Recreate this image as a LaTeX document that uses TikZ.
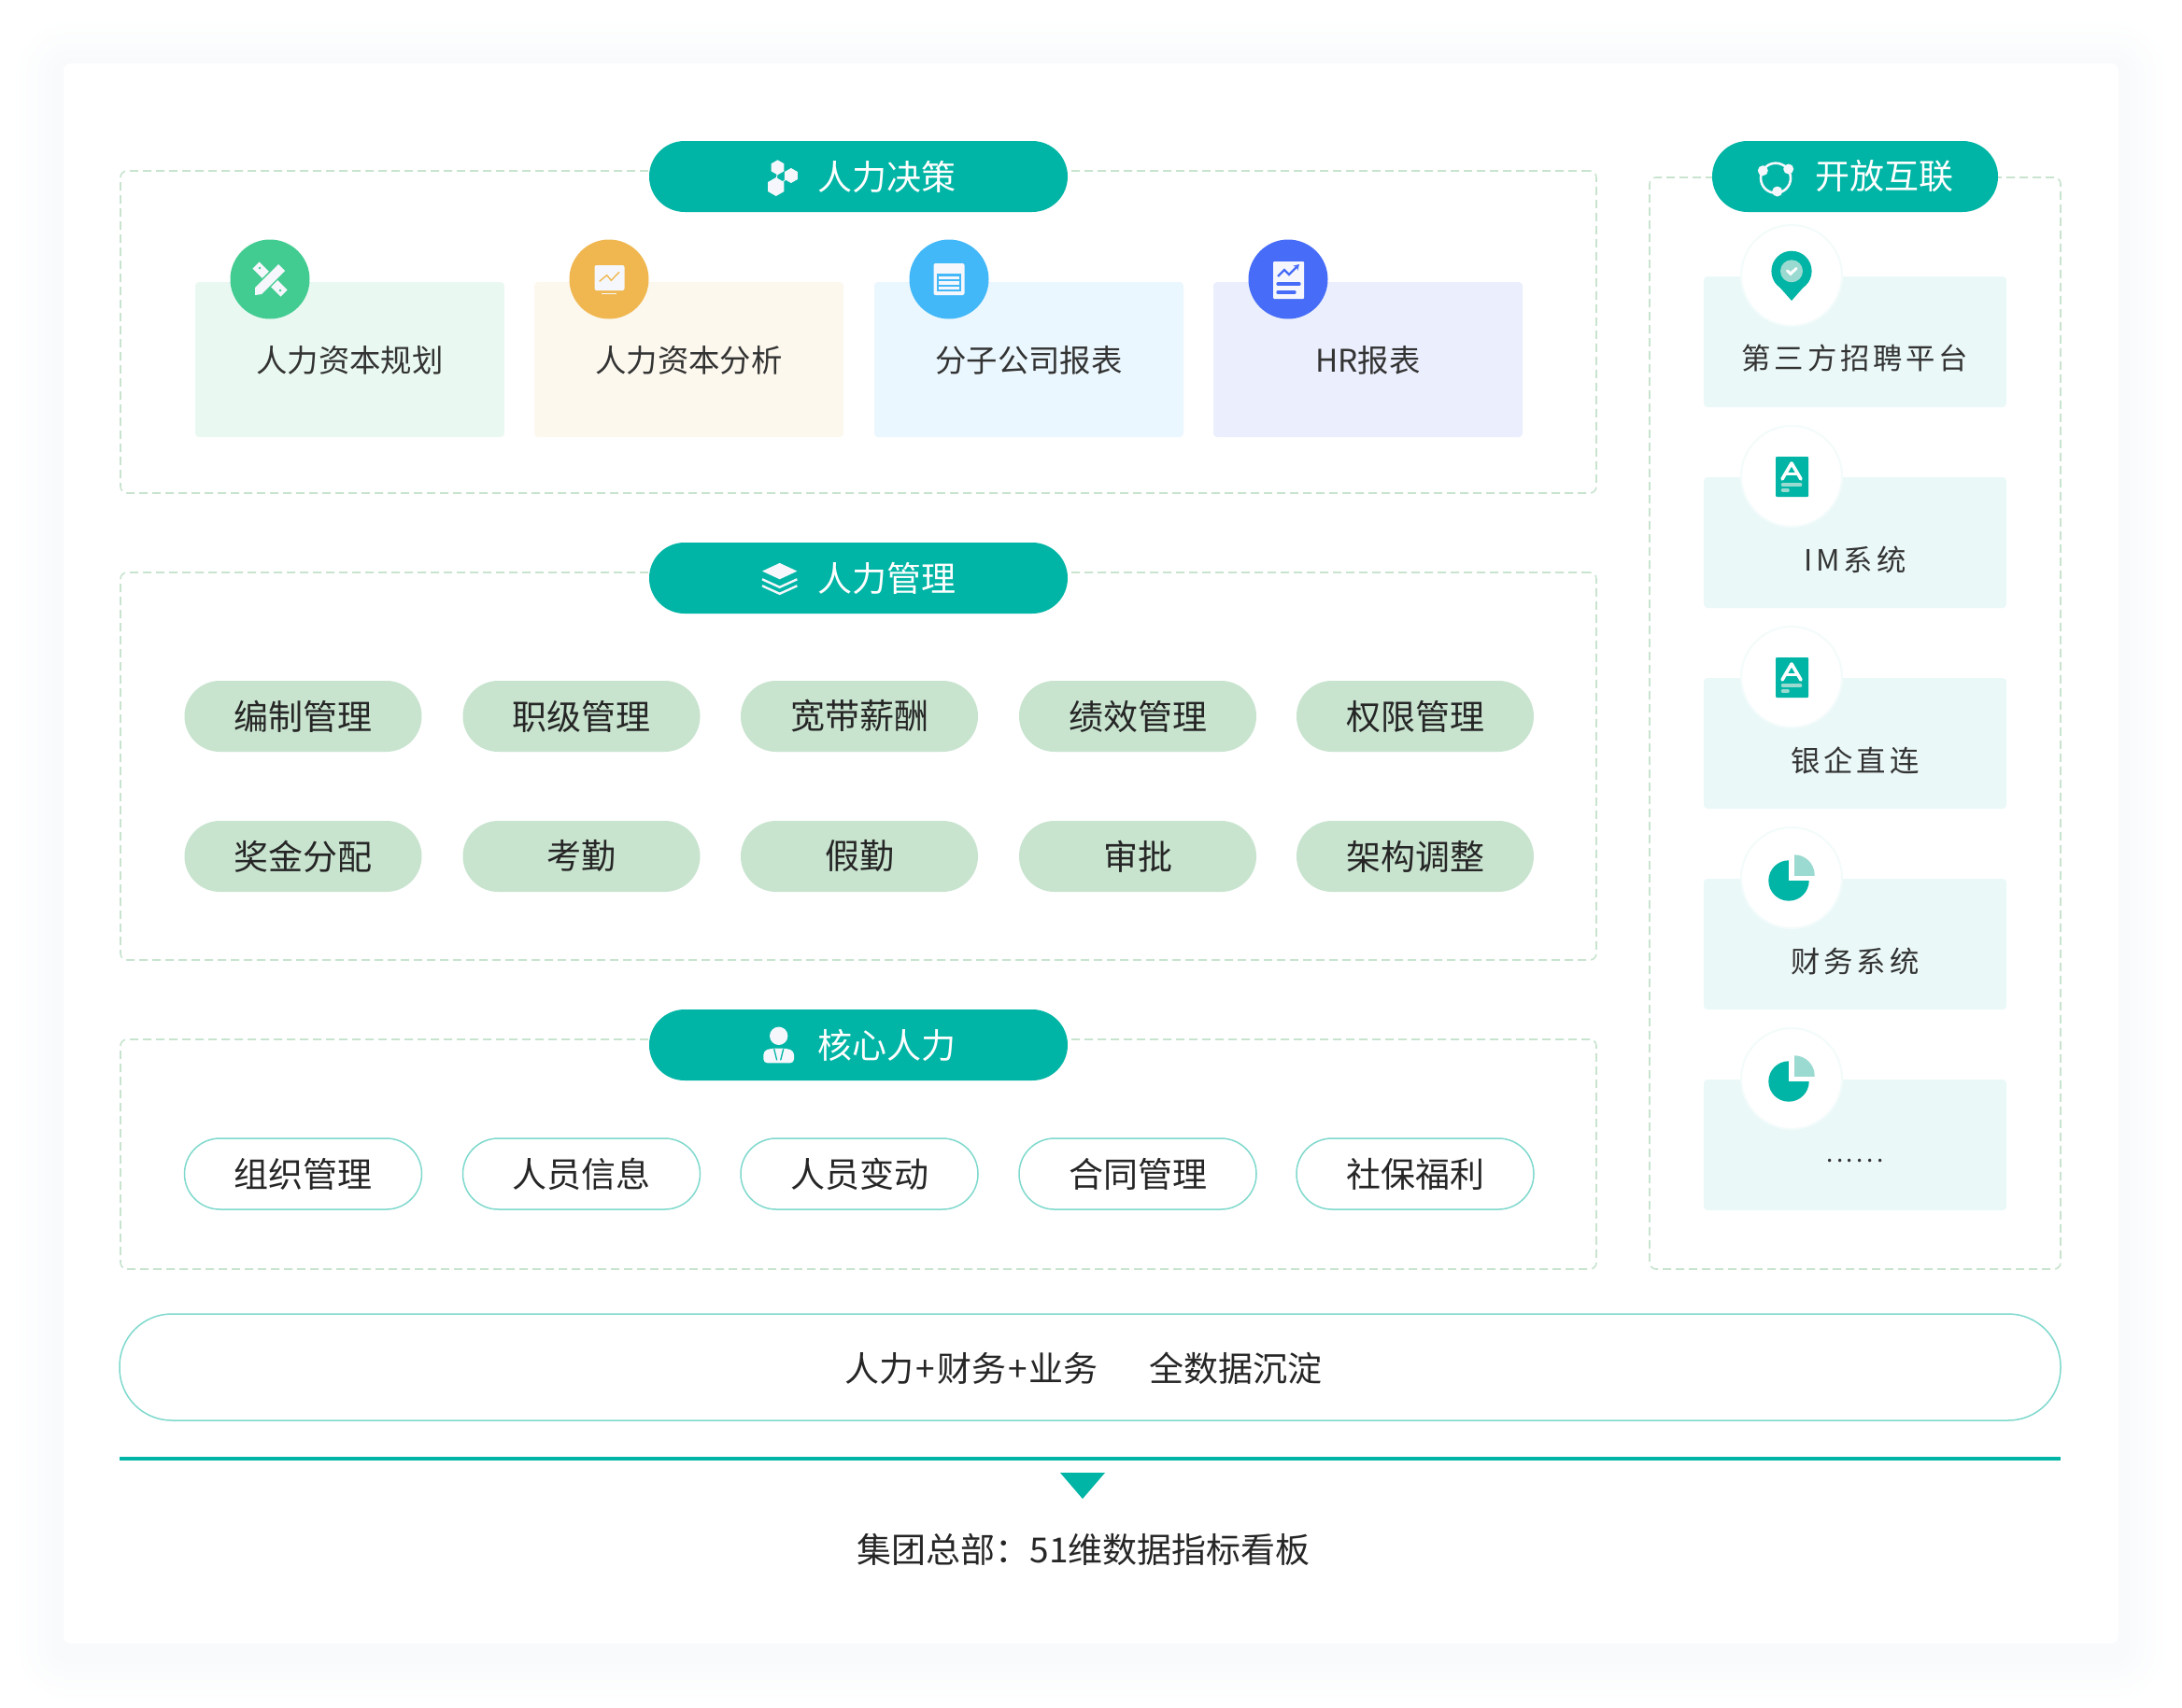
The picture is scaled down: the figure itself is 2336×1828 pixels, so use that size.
\documentclass[tikz,border=0pt]{standalone}
\usepackage{fontspec}
\setmainfont{Noto Sans CJK SC}
\newfontfamily\spreadfont[LetterSpace=12]{Noto Sans CJK SC}
\newfontfamily\dotsfont[LetterSpace=14]{Noto Sans CJK SC}
\definecolor{mainteal}{RGB}{0,181,165}
\definecolor{softteal}{RGB}{155,218,209}
\definecolor{barteal}{RGB}{127,217,205}
\definecolor{palegreen}{RGB}{200,228,207}
\definecolor{paleteal}{RGB}{235,248,248}
\definecolor{shadowblue}{RGB}{120,150,190}
\definecolor{inkgrey}{RGB}{51,51,51}
\definecolor{iconwhite}{RGB}{245,247,252}
\definecolor{toolgreen}{RGB}{67,204,145}
\definecolor{toolbg}{RGB}{233,249,242}
\definecolor{chartorange}{RGB}{240,183,80}
\definecolor{chartbg}{RGB}{252,248,238}
\definecolor{tableblue}{RGB}{66,184,248}
\definecolor{tablebg}{RGB}{235,247,254}
\definecolor{reportblue}{RGB}{70,108,248}
\definecolor{reportbg}{RGB}{235,239,253}
\usetikzlibrary{arrows.meta,positioning,fit,calc}
\tikzset{
  dashbox/.style={draw=palegreen, line width=1.6pt, dash pattern=on 9pt off 5pt, rounded corners=7pt},
  headpill/.style={fill=mainteal, rounded corners=37.9pt, minimum height=76pt, inner sep=0pt},
  headtext/.style={text=white, font=\fontsize{37}{44}\selectfont, inner sep=0pt},
  plaincard/.style={rounded corners=4pt, minimum width=331pt, minimum height=166pt, inner sep=0pt},
  cardtext/.style={text=inkgrey, font=\fontsize{33.4}{40}\selectfont, inner sep=0pt},
  iconround/.style={circle, minimum size=85pt, inner sep=0pt},
  sidecard/.style={fill=paleteal, rounded corners=4pt, minimum width=324pt, minimum height=140pt, inner sep=0pt},
  sidetext/.style={text=inkgrey, font=\fontsize{31.4}{38}\spreadfont, inner sep=0pt},
  sideround/.style={circle, fill=white, minimum size=108pt, inner sep=0pt},
  chipbase/.style={rounded corners=37.9pt, minimum width=254pt, minimum height=76pt, inner sep=0pt,
    text=black!85, font=\fontsize{37}{44}\selectfont},
  chipfill/.style={chipbase, fill=palegreen},
  chipline/.style={chipbase, draw=barteal, fill=white, line width=1.5pt},
  hexicon/.pic={
    \foreach \hx/\hy/\hr in {-3.5/-9.7/8, 10.9/-1/8, -5.2/11/10}
      \fill[iconwhite, shift={(\hx,\hy)}] (30:\hr) -- (90:\hr) -- (150:\hr) -- (210:\hr) -- (270:\hr) -- (330:\hr) -- cycle;
    \draw[iconwhite, line width=1pt] (-3.5,-9.7) -- (-5.2,11) -- (10.9,-1);
  },
  layericon/.pic={
    \fill[iconwhite] (-18.7,-7.7) -- (0,-16.4) -- (18.7,-7.7) -- (0,1) -- cycle;
    \draw[iconwhite, line width=2.4pt] (-18.7,1) -- (0,9.5) -- (18.7,1);
    \draw[iconwhite, line width=2.4pt] (-18.7,8) -- (0,16.5) -- (18.7,8);
  },
  personicon/.pic={
    \fill[iconwhite] (0,-10) circle (9.7);
    \fill[iconwhite, rounded corners=4pt] (-16.3,19) -- (-16.3,6) -- (-8,3.3) -- (8,3.3) -- (16.3,6) -- (16.3,19) -- cycle;
    \draw[mainteal, line width=1.3pt] (-5,4) -- (-2,16) (5,4) -- (2,16);
  },
  ringicon/.pic={
    \draw[iconwhite, line width=2.6pt] (0,-1) circle (16);
    \fill[iconwhite] (-13.7,-9) circle (5.5) (13.7,-10.7) circle (5.5) (1.7,13.3) circle (5.5);
  },
  toolicon/.pic={
    \draw[iconwhite, line width=10pt] (-15,-15) -- (15,15);
    \fill[toolgreen] (-11,-12) circle (1.4) (11,12) circle (1.4);
    \draw[toolgreen, line width=13pt] (-13,13) -- (13,-13);
    \fill[iconwhite] (-16,17) -- (-16,9) -- (9,-16) -- (16,-9) -- (-9,16) -- cycle;
  },
  screenicon/.pic={
    \fill[iconwhite, rounded corners=2pt] (-15.5,-15) rectangle (16.5,12);
    \draw[iconwhite, line width=1.5pt] (-8,15.5) -- (8,15.5);
    \draw[chartorange, line width=1.4pt] (-10.3,2.3) -- (-2.3,-4.3) -- (2.3,1.3) -- (11,-7.7);
  },
  tableicon/.pic={
    \fill[iconwhite, rounded corners=2pt] (-16.5,-17) rectangle (16.5,17);
    \fill[tableblue] (-13,-6) rectangle (12.5,13);
    \foreach \sy in {-3.5,2,7.5}
      \fill[iconwhite] (-11.5,\sy) rectangle (11,\sy+3.5);
  },
  reporticon/.pic={
    \fill[iconwhite, rounded corners=1pt] (-16,-19) rectangle (17,21);
    \draw[reportblue, line width=2.2pt, -{Stealth[length=6pt,width=7pt]}] (-11,-3) -- (-4,-10) -- (1,-5) -- (12,-16);
    \draw[reportblue, line width=3.4pt, line cap=round] (-11,5) -- (12,5) (-11,14) -- (7,14);
  },
  pinicon/.pic={
    \fill[mainteal] (-18.5,6) -- (0,27) -- (18.5,6) -- cycle;
    \fill[mainteal] (0,-4.7) circle (21.6);
    \fill[softteal] (0,-4.7) circle (12);
    \draw[white, line width=3pt, line cap=round] (-4.5,-5) -- (-1,-1.8) -- (5,-7.5);
  },
  docicon/.pic={
    \fill[mainteal, rounded corners=1pt] (-17,-21) rectangle (18,22);
    \draw[white, line width=3.6pt, line cap=round, line join=round] (-10,3) -- (0,-14) -- (10,3);
    \draw[white, line width=3pt] (-6,-3) -- (6,-3);
    \draw[softteal, line width=3.6pt, line cap=round] (-9.5,9) -- (9.5,9);
    \draw[softteal, line width=3.6pt, line cap=round] (-9.5,15) -- (-4,15);
  },
  pieicon/.pic={
    \fill[mainteal] (-3,3) circle (21.7);
    \fill[white] (-3,3) rectangle (22,-22);
    \begin{scope}
      \clip (3,-3) rectangle (28,-28);
      \fill[softteal] (3,-3) circle (21.7);
    \end{scope}
  },
}

\begin{document}
\begin{tikzpicture}[x=1pt, y=-1pt]
    \useasboundingbox (0,0) rectangle (2336,1828);

    % soft page shadow
    \foreach \s in {4,8,...,52}
      \fill[shadowblue, opacity=0.0035, rounded corners=\s pt+6pt]
        (68-\s,68-\s+6) rectangle (2268+\s,1760+\s+10);
    \node[fill=white, rounded corners=8pt, minimum width=2200pt, minimum height=1692pt, inner sep=0pt] (sheet) at (1168,914) {};

    % dashed frames
    \node[dashbox, minimum width=1580pt, minimum height=345pt, inner sep=0pt] (decideBox) at (919,355.5) {};
    \node[dashbox, minimum width=1580pt, minimum height=415pt, inner sep=0pt] (manageBox) at (919,820.5) {};
    \node[dashbox, minimum width=1580pt, minimum height=246pt, inner sep=0pt] (coreBox) at (919,1236) {};
    \node[dashbox, minimum width=440pt, minimum height=1169pt, inner sep=0pt] (openBox) at (1986,774.5) {};

    % heading pills
    \node[headpill, minimum width=448pt] (decidePill) at (919,189) {};
    \node[headpill, minimum width=448pt] (managePill) at (919,619) {};
    \node[headpill, minimum width=448pt] (corePill) at (919,1119) {};
    \node[headpill, minimum width=306pt] (openPill) at (1986,189) {};
    \node[headtext] (decideText) at (949,189) {人力决策};
    \node[headtext] (manageText) at (949,619) {人力管理};
    \node[headtext] (coreText) at (949,1119) {核心人力};
    \node[headtext] (openText) at (2017,189) {开放互联};
    \pic at (836,189) {hexicon};
    \pic at (834.7,619.3) {layericon};
    \pic at (833.7,1119.3) {personicon};
    \pic at (1901,191.7) {ringicon};

    % top row of report cards
    \foreach \name/\label/\cx/\bg/\fg/\icon in {
        plan/人力资本规划/374.5/toolbg/toolgreen/toolicon,
        analyse/人力资本分析/737.5/chartbg/chartorange/screenicon,
        branch/分子公司报表/1101.5/tablebg/tableblue/tableicon,
        hr/HR报表/1464.5/reportbg/reportblue/reporticon} {
      \node[plaincard, fill=\bg] (\name Card) at (\cx,385) {};
      \node[cardtext] (\name Text) at (\cx,386) {\label};
      \node[iconround, fill=\fg] (\name Icon) at (\cx-85.5,299) {};
      \pic at (\name Icon.center) {\icon};
    }

    % manage chips
    \foreach \name/\label/\cx/\cy in {
        staffing/编制管理/324.5/767, rank/职级管理/622.5/767, band/宽带薪酬/920/767,
        merit/绩效管理/1218/767, rights/权限管理/1515/767,
        bonus/奖金分配/324.5/917, attend/考勤/622.5/917, leave/假勤/920/917,
        approve/审批/1218/917, restruct/架构调整/1515/917}
      \node[chipfill] (\name Chip) at (\cx,\cy) {\label};

    % core chips
    \foreach \name/\label/\cx in {
        org/组织管理/324.5, people/人员信息/622.5, change/人员变动/920,
        contract/合同管理/1218, welfare/社保福利/1515}
      \node[chipline] (\name Chip) at (\cx,1257) {\label};

    % side cards
    \foreach \name/\label/\cy/\icon in {
        recruit/第三方招聘平台/366/pinicon,
        im/IM系统/581/docicon,
        bank/银企直连/796/docicon,
        finance/财务系统/1011/pieicon} {
      \node[sidecard] (\name Card) at (1986,\cy) {};
      \node[sidetext] (\name Text) at (1986,\cy+18) {\label};
      \node[sideround, draw=paleteal!60, line width=2pt] (\name Icon) at (1918,\cy-71) {};
      \pic at (\name Icon.center) {\icon};
    }
    \node[sidecard] (moreCard) at (1986,1226) {};
    \node[sidetext, font=\fontsize{26}{30}\dotsfont] (moreText) at (1986,1243) {......};
    \node[sideround, draw=paleteal!60, line width=2pt] (moreIcon) at (1918,1155) {};
    \pic at (moreIcon.center) {pieicon};

    % bottom band
    \node[draw=barteal, line width=1.5pt, fill=white, rounded corners=56pt, minimum width=2078pt, minimum height=114pt, inner sep=0pt] (dataBand) at (1167,1464) {};
    \node[text=black!85, font=\fontsize{37}{44}\selectfont, inner sep=0pt] (dataText) at (1160,1465) {人力\hspace{2pt}+\hspace{2pt}财务\hspace{2pt}+\hspace{2pt}业务\hspace{55pt}全数据沉淀};
    \coordinate (ruleLeft) at (128,1562);
    \coordinate (ruleRight) at (2206,1562);
    \draw[mainteal, line width=4.4pt] (ruleLeft) -- (ruleRight);
    \fill[mainteal] (1135,1577) -- (1183,1577) -- (1159,1605) -- cycle;
    \node[text=black!85, font=\fontsize{37}{44}\selectfont, inner sep=0pt] (boardText) at (1160,1659) {集团总部：51维数据指标看板};
\end{tikzpicture}
\end{document}
